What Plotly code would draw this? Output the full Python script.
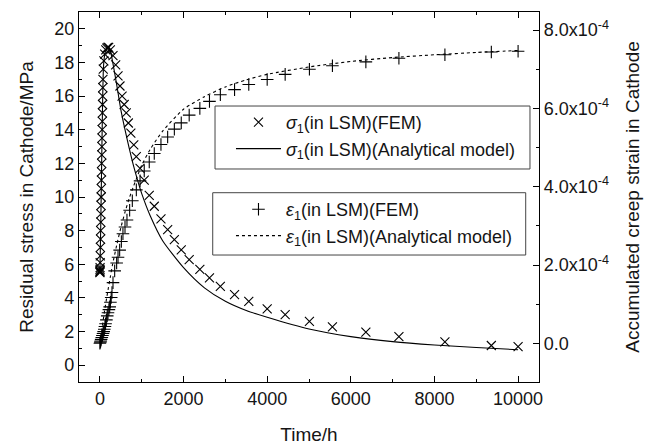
import plotly.graph_objects as go

# ---------------- data ----------------
# FEM residual stress (MPa) vs time (h)
t_stress_fem = [0, 1, 2, 3, 4, 6, 9, 12, 15, 18, 21, 24, 27, 30, 33, 36, 39, 42, 45, 48, 51, 54, 57,
                60, 63, 66, 69, 72, 80, 95, 115, 140, 165, 190, 210,
                250, 313, 377, 433, 480, 530, 580, 630, 680, 740, 810, 870, 960, 1060, 1180, 1300,
                1460, 1620, 1780, 1945, 2135, 2390, 2620, 2880, 3220, 3560, 4000, 4430, 5010, 5560,
                6360, 7150, 8250, 9360, 10000]
stress_fem = [5.5, 5.55, 5.6, 5.7, 5.8, 6.1, 6.5, 7.0, 7.5, 8.0, 8.5, 9.0, 9.5, 10.0, 10.5, 11.0, 11.5,
              12.0, 12.5, 13.0, 13.5, 14.0, 14.5, 15.0, 15.5, 16.0, 16.5, 17.0, 17.6, 18.1, 18.5, 18.75,
              18.85, 18.9, 18.9,
              18.75, 18.4, 17.85, 17.2, 16.6, 16.0, 15.5, 15.0, 14.4, 13.8, 13.1, 12.4, 11.7, 11.0, 10.1,
              9.45, 8.7, 8.06, 7.47, 6.85, 6.28, 5.7, 5.19, 4.69, 4.2, 3.8, 3.35, 3.01, 2.61, 2.28, 1.96,
              1.7, 1.38, 1.17, 1.1]

# FEM accumulated creep strain (units of 1e-4) vs time (h)
t_strain_fem = [0, 10, 20, 30, 45, 60, 75, 90, 105, 120, 135, 155, 175, 193, 215, 234, 251, 270, 289,
                313, 353, 400, 433, 472, 513, 551, 600, 647, 711, 775, 871, 960, 1060, 1180, 1300,
                1460, 1620, 1780, 1945, 2135, 2390, 2620, 2880, 3220, 3560, 4000, 4430, 5010, 5560,
                6360, 7150, 8250, 9360, 10000]
strain_fem_e4 = [0, 0.03, 0.06, 0.1, 0.15, 0.2, 0.25, 0.3, 0.36, 0.43, 0.5, 0.6, 0.7, 0.78, 0.86,
                 0.93, 1.05, 1.17, 1.3, 1.55, 1.85, 2.05, 2.2, 2.38, 2.6, 2.8, 2.97, 3.15, 3.4, 3.64,
                 3.92, 4.15, 4.4, 4.63, 4.85, 5.08, 5.27, 5.47, 5.63, 5.83, 6.0, 6.18, 6.35, 6.48, 6.61,
                 6.74, 6.87, 7.0, 7.09, 7.19, 7.28, 7.37, 7.44, 7.46]

# Analytical model
t_an = [0, 20, 40, 60, 80, 100, 130, 160, 200, 250, 300, 400, 500, 600, 700, 800, 900, 1000, 1200,
        1500, 2000, 2500, 3000, 3500, 4000, 5000, 6000, 7000, 8000, 9000, 10000]
stress_an = [5.5, 8.3, 11.7, 15.0, 17.4, 18.2, 18.65, 18.85, 18.95, 18.7, 18.1, 16.7, 15.2, 14.0, 12.9,
             11.9, 11.0, 10.2, 8.9, 7.4, 5.8, 4.6, 3.8, 3.25, 2.85, 2.15, 1.7, 1.4, 1.2, 1.05, 0.92]
strain_an_e4 = [0, 0.15, 0.3, 0.45, 0.6, 0.75, 0.95, 1.15, 1.4, 1.7, 2.0, 2.5, 2.95, 3.35, 3.7, 4.0,
                4.28, 4.55, 4.95, 5.42, 5.98, 6.3, 6.55, 6.73, 6.87, 7.06, 7.2, 7.3, 7.37, 7.43, 7.48]

x_ticks = [0, 2000, 4000, 6000, 8000, 10000]
x_ticktext = ["0", "2000", "4000", "6000", "8000", "10000"]
y_ticks = [0, 2, 4, 6, 8, 10, 12, 14, 16, 18, 20]
y2_tickvals = [0, 2e-4, 4e-4, 6e-4, 8e-4]
y2_ticktext = ["0.0", "2.0x10<sup>-4</sup>", "4.0x10<sup>-4</sup>", "6.0x10<sup>-4</sup>",
               "8.0x10<sup>-4</sup>"]

FONT = "Liberation Sans, Arial, sans-serif"
INK = "black"
TXT = "#151515"

fig = go.Figure()
fig.add_trace(go.Scatter(
    x=t_stress_fem, y=stress_fem, mode="markers", name="<i>σ</i><sub>1</sub>(in LSM)(FEM)",
    marker=dict(symbol="x-thin", size=9, line=dict(width=1.1, color=INK)),
    legend="legend"))
fig.add_trace(go.Scatter(
    x=t_an, y=stress_an, mode="lines", name="<i>σ</i><sub>1</sub>(in LSM)(Analytical model)",
    line=dict(color=INK, width=1.1, shape="spline", smoothing=0.6), legend="legend"))
fig.add_trace(go.Scatter(
    x=t_strain_fem, y=[v * 1e-4 for v in strain_fem_e4], mode="markers", yaxis="y2",
    name="<i>ε</i><sub>1</sub>(in LSM)(FEM)",
    marker=dict(symbol="cross-thin", size=9, line=dict(width=1.1, color=INK)),
    legend="legend2"))
fig.add_trace(go.Scatter(
    x=t_an, y=[v * 1e-4 for v in strain_an_e4], mode="lines", yaxis="y2",
    name="<i>ε</i><sub>1</sub>(in LSM)(Analytical model)",
    line=dict(color=INK, width=1.1, dash="3px,3px", shape="spline", smoothing=0.6),
    legend="legend2"))

axis_common = dict(showline=True, linecolor=INK, linewidth=1.2, ticks="inside", ticklen=6,
                   tickwidth=1.2, tickcolor=INK, showgrid=False, zeroline=False, automargin=False,
                   tickfont=dict(family=FONT, size=18, color=TXT))
minor_common = dict(ticks="inside", ticklen=3, tickwidth=1.2, tickcolor=INK)

fig.update_layout(
    width=656, height=445,
    margin=dict(l=79, r=117, t=12, b=63),
    paper_bgcolor="white", plot_bgcolor="white",
    font=dict(family=FONT, size=18, color=TXT),
    xaxis=dict(range=[-500, 10500], tickvals=x_ticks, ticktext=x_ticktext, mirror="ticks",
               minor=dict(dtick=1000, tick0=0, **minor_common),
               title=dict(text="Time/h", font=dict(family=FONT, size=19, color=TXT), standoff=22),
               **axis_common),
    yaxis=dict(range=[-1, 21], tickvals=y_ticks,
               minor=dict(dtick=1, tick0=0, **minor_common),
               title=dict(text="Residual stress in Cathode/MPa",
                          font=dict(family=FONT, size=19, color=TXT), standoff=15),
               **axis_common),
    yaxis2=dict(range=[-0.988e-4, 8.463e-4], overlaying="y", side="right",
                tickvals=y2_tickvals, ticktext=y2_ticktext,
                minor=dict(dtick=1e-4, tick0=0, **minor_common),
                title=dict(text="Accumulated creep strain in Cathode",
                           font=dict(family=FONT, size=19, color=TXT), standoff=17),
                **axis_common),
    legend=dict(x=0.3304, y=0.7514, xanchor="left", yanchor="top", bgcolor="rgba(0,0,0,0)",
                borderwidth=0, font=dict(family=FONT, size=18, color=TXT), itemwidth=45),
    legend2=dict(x=0.3304, y=0.5162, xanchor="left", yanchor="top", bgcolor="rgba(0,0,0,0)",
                 borderwidth=0, font=dict(family=FONT, size=18, color=TXT), itemwidth=45),
    shapes=[
        dict(type="rect", xref="paper", yref="paper", x0=0.2957, x1=0.9804, y0=0.5757, y1=0.7459,
             line=dict(color="#444", width=1), fillcolor="rgba(0,0,0,0)", layer="above"),
        dict(type="rect", xref="paper", yref="paper", x0=0.2907, x1=0.9711, y0=0.3432, y1=0.5116,
             line=dict(color="#444", width=1), fillcolor="rgba(0,0,0,0)", layer="above"),
    ],
)

fig.write_html("out.html", config={"displayModeBar": False},
               post_script="document.body.style.margin='0';document.body.style.padding='0';")
